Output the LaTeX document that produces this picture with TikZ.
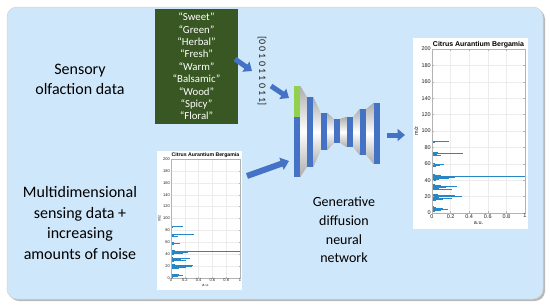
\documentclass[tikz,border=0pt]{standalone}
\usepackage{fontspec}
\setmainfont{Carlito}
\newfontfamily\plotfont{Liberation Sans}
\usetikzlibrary{arrows.meta}
\definecolor{bgblue}{RGB}{207,231,250}
\definecolor{netblue}{RGB}{68,114,196}
\definecolor{dkgreen}{RGB}{56,87,35}
\definecolor{ltgreen}{RGB}{146,208,80}
\definecolor{specblue}{RGB}{0,114,189}
\newcommand{\specdata}{86/0.03, 87/0.18, 87.5/0.04, 88/0.02,
70/0.02, 71/0.1, 72/0.05, 73/0.33, 73.5/0.06, 74/0.03,
57/0.04, 58/0.09, 59/0.13, 60/0.05, 61/0.03,
40/0.04, 41/0.08, 42/0.12, 42.5/0.18, 43/0.22, 43.5/0.2, 44/0.25, 44.5/1.0, 45/0.15, 45.5/0.1, 46/0.06, 47/0.03,
29/0.05, 29.5/0.22, 30/0.08, 31/0.12, 31.5/0.06, 32/0.15, 33/0.27, 33.5/0.1, 34/0.05, 35/0.03,
16/0.04, 17/0.12, 18/0.22, 19/0.08, 20/0.28, 20.5/0.3, 21/0.32, 21.5/0.25, 22/0.15, 23/0.06,
2/0.03, 3/0.1, 4/0.05, 5/0.17, 5.5/0.08, 6/0.12, 7/0.04, 8/0.02}
% #1 name, #2 x0, #3 y0 (bottom), #4 w, #5 h, #6 tick font, #7 title font, #8 line width
\newcommand{\specplot}[8]{%
\begin{scope}[shift={(#2pt,-#3pt)}, x={(#4pt,0pt)}, y={(0pt,#5pt)}]
  \fill[white] (-0.205,-0.1) rectangle (1.035,1.065);
  \coordinate (#1-ne) at (1.035,1.065);
  \coordinate (#1-w) at (-0.205,0.5);
  \foreach \gx in {0.2,0.4,0.6,0.8} \draw[gray!15, line width=0.3pt] (\gx,0) -- (\gx,1);
  \foreach \k in {1,...,9} \draw[gray!15, line width=0.3pt] (0,{\k/10}) -- (1,{\k/10});
  \foreach \m/\a in \specdata \draw[specblue!85, line width=#8] (0,{\m/200}) -- (\a,{\m/200});
  \draw[gray!60, line width=0.3pt] (0,0) rectangle (1,1);
  \foreach \k in {0,...,10} \draw[gray!60, line width=0.3pt] (0,{\k/10}) -- (0.02,{\k/10}) (1,{\k/10}) -- (0.98,{\k/10});
  \foreach \gx in {0,0.2,0.4,0.6,0.8,1} \draw[gray!60, line width=0.3pt] (\gx,0) -- (\gx,0.012) (\gx,1) -- (\gx,0.988);
  \foreach \lab in {0,20,...,200} \node[anchor=east, font=#6, text=gray!25!black, inner sep=1pt] at (0,{\lab/200}) {\lab};
  \foreach \lab in {0,0.2,0.4,0.6,0.8,1} \node[anchor=north, font=#6, text=gray!25!black, inner sep=1pt] at (\lab,0) {\lab};
  \node[anchor=north, font=#6, text=gray!25!black, inner sep=0pt] at (0.5,-0.05) {a.u.};
  \node[rotate=90, font=#6, text=gray!25!black, inner sep=0pt] at (-0.17,0.5) {m/z};
  \node[anchor=south, font=#7, inner sep=0.8pt] at (0.5,1) {Citrus Aurantium Bergamia};
\end{scope}}
\begin{document}
\begin{tikzpicture}[x=1pt, y=-1pt,
  col/.style={fill=netblue, minimum width=6pt, inner sep=0pt, draw=none},
  barrow/.style={netblue, line width=5pt, -{Triangle[length=7.5pt, width=12pt]}},
  gfill/.style={top color=gray!65, bottom color=gray!65, middle color=white}]
\useasboundingbox (0,0) rectangle (550,306);
% background
\fill[gray!55, rounded corners=10pt] (9,9) rectangle (545,301);
\fill[bgblue, draw=gray!35, line width=0.5pt, rounded corners=10pt] (7,7) rectangle (543,299);
% left texts
\node[font=\fontsize{16}{20}\selectfont, align=center] (sens) at (80,79) {Sensory\\olfaction data};
\node[font=\fontsize{16}{20.5}\selectfont, align=center] (multi) at (80,223) {Multidimensional\\sensing data +\\increasing\\amounts of noise};
% green box
\node[fill=dkgreen, minimum width=83pt, minimum height=115pt, inner sep=0pt, text=white, align=center,
      font=\fontsize{10.8}{12.4}\selectfont] (green) at (196.5,66.5)
  {“Sweet”\\“Green”\\“Herbal”\\“Fresh”\\“Warm”\\“Balsamic”\\“Wood”\\“Spicy”\\“Floral”};
% vector
\node[rotate=-90, font=\fontsize{10}{12}\selectfont, text=gray!25!black] (vec) at (262,71) {[0 0 1 0 1 1 0 1 1]};
% network columns
\node[col, minimum height=91pt] (c1) at (297,131.5) {};
\node[col, minimum height=70pt] (c2) at (310,132) {};
\node[col, minimum height=37pt] (c3) at (324,131.5) {};
\node[col, minimum height=24pt] (c4) at (337,131) {};
\node[col, minimum height=30pt] (c5) at (350,132) {};
\node[col, minimum height=46pt] (c6) at (363,132) {};
\node[col, minimum height=61pt] (c7) at (377,133.5) {};
\foreach \a/\b in {c1/c2,c2/c3,c3/c4,c4/c5,c5/c6,c6/c7}
  \shade[gfill] (\a.north east) -- (\b.north west) -- (\b.south west) -- (\a.south east) -- cycle;
\node[fill=ltgreen, minimum width=6pt, minimum height=31pt, inner sep=0pt] (cg) at (297,101.5) {};
\node[font=\fontsize{14}{18.7}\selectfont, align=center] (gen) at (344,230) {Generative\\diffusion\\neural\\network};
% plots
\specplot{lplot}{171}{278}{69}{119}{\plotfont\fontsize{4}{5}\selectfont}{\plotfont\bfseries\fontsize{5.2}{6}\selectfont}{0.4pt}
\specplot{rplot}{432}{213}{93}{164}{\plotfont\fontsize{5.5}{6.5}\selectfont}{\plotfont\bfseries\fontsize{7}{8}\selectfont}{0.5pt}
% arrows
\coordinate (a1s) at (235,59);
\coordinate (a1e) at (252,71);
\coordinate (a2s) at (271,86);
\coordinate (a2e) at (289,98);
\coordinate (a3s) at (247,176);
\coordinate (a3e) at (289,161);
\coordinate (a4s) at (387,135);
\coordinate (a4e) at (405,135);
\draw[barrow] (a1s) -- (a1e);
\draw[barrow] (a2s) -- (a2e);
\draw[barrow, line width=6pt, -{Triangle[length=8pt, width=12.5pt]}] (a3s) -- (a3e);
\draw[barrow] (a4s) -- (a4e);
\end{tikzpicture}
\end{document}
